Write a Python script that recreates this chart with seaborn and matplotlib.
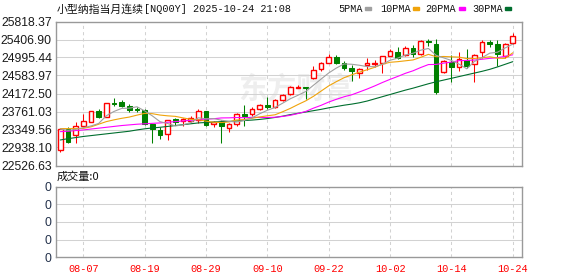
import numpy as np
import pandas as pd
import matplotlib
matplotlib.use("Agg")
import matplotlib.pyplot as plt
from matplotlib.patches import Rectangle
import seaborn as sns

# ---------------- data ----------------
dates = ["08-04", "08-05", "08-06", "08-07", "08-08", "08-11", "08-12", "08-13", "08-14", "08-15",
         "08-18", "08-19", "08-20", "08-21", "08-22", "08-25", "08-26", "08-27", "08-28", "08-29",
         "09-01", "09-02", "09-03", "09-04", "09-05", "09-08", "09-09", "09-10", "09-11", "09-12",
         "09-15", "09-16", "09-17", "09-18", "09-19", "09-22", "09-23", "09-24", "09-25", "09-26",
         "09-29", "09-30", "10-01", "10-02", "10-03", "10-06", "10-07", "10-08", "10-09", "10-10",
         "10-13", "10-14", "10-15", "10-16", "10-17", "10-20", "10-21", "10-22", "10-23", "10-24"]

opens = [22870, 23353, 23224, 23437, 23528, 23772, 23643, 23963, 23978, 23887,
         23826, 23785, 23470, 23334, 23243, 23595, 23535, 23543, 23566, 23776,
         23480, 23529, 23380, 23470, 23700, 23705, 23818, 23910, 23872, 24024,
         24150, 24300, 24313, 24527, 24725, 24870, 25014, 24862, 24763, 24634,
         24820, 24840, 24880, 25040, 25129, 25060, 25205, 25075, 25370, 25304,
         24656, 24900, 24786, 24938, 24847, 25113, 25342, 25304, 25037, 25319]
highs = [23353, 23406, 23528, 23696, 23765, 23818, 23948, 24077, 24024, 23925,
         23872, 23818, 23483, 23410, 23578, 23612, 23610, 23658, 23811, 23776,
         23545, 23567, 23506, 23719, 23910, 23856, 23940, 24100, 24047, 24170,
         24351, 24370, 24321, 24790, 24900, 25070, 25052, 24920, 24824, 24755,
         24976, 24940, 25040, 25180, 25225, 25260, 25290, 25405, 25415, 25418,
         24938, 25052, 25113, 25190, 25068, 25395, 25395, 25395, 25319, 25548]
lows = [22843, 23050, 23048, 23437, 23528, 23620, 23643, 23887, 23856, 23742,
        23742, 23452, 23052, 23135, 23105, 23452, 23430, 23530, 23490, 23437,
        23400, 23040, 23300, 23429, 23440, 23666, 23803, 23810, 23833, 24001,
        24138, 24300, 24045, 24510, 24690, 24862, 24840, 24700, 24450, 24530,
        24710, 24780, 24640, 25030, 24961, 25040, 25014, 25060, 25250, 24161,
        24633, 24443, 24694, 24748, 24427, 24991, 25243, 24809, 24976, 25300]
closes = [23353, 23071, 23429, 23536, 23765, 23635, 23948, 23925, 23887, 23788,
          23795, 23480, 23353, 23228, 23578, 23515, 23590, 23612, 23780, 23460,
          23530, 23429, 23470, 23696, 23665, 23825, 23910, 23872, 24020, 24145,
          24313, 24310, 24298, 24718, 24862, 25014, 24877, 24763, 24687, 24740,
          24862, 24870, 25030, 25150, 24995, 25215, 25075, 25380, 25345, 24214,
          24915, 24786, 24961, 24809, 25052, 25357, 25296, 25068, 25296, 25487]

ma5 = [23360, 23330, 23350, 23390, 23431, 23487, 23663, 23762, 23832, 23837,
       23869, 23775, 23661, 23529, 23487, 23431, 23455, 23507, 23617, 23593,
       23598, 23563, 23536, 23519, 23559, 23614, 23710, 23789, 23853, 23952,
       24053, 24133, 24218, 24360, 24502, 24642, 24755, 24848, 24841, 24818,
       24787, 24786, 24839, 24932, 24981, 25052, 25093, 25163, 25202, 25046,
       24986, 24928, 24844, 24737, 24905, 24993, 25095, 25116, 25214, 25301]
ma10 = [23370, 23370, 23370, 23375, 23410, 23470, 23530, 23570, 23605, 23634,
        23678, 23719, 23711, 23680, 23662, 23650, 23615, 23584, 23573, 23540,
        23514, 23509, 23521, 23568, 23576, 23606, 23637, 23663, 23686, 23756,
        23833, 23921, 24004, 24107, 24227, 24347, 24444, 24533, 24600, 24660,
        24715, 24771, 24844, 24886, 24900, 24920, 24940, 25001, 25067, 25014,
        25019, 25011, 25004, 24970, 24975, 24989, 25012, 24980, 24975, 25103]
ma20 = [23300, 23310, 23325, 23340, 23360, 23380, 23400, 23420, 23440, 23455,
        23470, 23480, 23490, 23500, 23515, 23530, 23545, 23560, 23575, 23587,
        23596, 23614, 23616, 23624, 23619, 23628, 23626, 23623, 23630, 23648,
        23674, 23715, 23763, 23837, 23902, 23977, 24040, 24098, 24143, 24208,
        24274, 24346, 24424, 24496, 24563, 24634, 24692, 24767, 24834, 24837,
        24867, 24891, 24924, 24928, 24937, 24955, 24976, 24991, 25021, 25058]
ma30 = [23110, 23140, 23165, 23190, 23210, 23230, 23250, 23270, 23290, 23310,
        23340, 23365, 23385, 23400, 23420, 23440, 23460, 23480, 23500, 23510,
        23520, 23530, 23535, 23545, 23555, 23565, 23580, 23600, 23625, 23655,
        23690, 23720, 23750, 23780, 23810, 23845, 23875, 23905, 23930, 23960,
        24000, 24050, 24100, 24150, 24200, 24250, 24295, 24345, 24395, 24440,
        24480, 24520, 24560, 24600, 24640, 24680, 24725, 24780, 24840, 24900]
volume = [0] * 60

price_ticks = [22526.63, 22938.10, 23349.56, 23761.03, 24172.50,
               24583.97, 24995.44, 25406.90, 25818.37]
price_tick_labels = ["22526.63", "22938.10", "23349.56", "23761.03", "24172.50",
                     "24583.97", "24995.44", "25406.90", "25818.37"]
date_tick_labels = ["08-07", "08-19", "08-29", "09-10", "09-22", "10-02", "10-14", "10-24"]
volume_tick_labels = ["0", "0", "0", "0", "0"]

title_cn = "小型纳指当月连续"
title_code = "[NQ00Y] 2025-10-24 21:08"
ma_names = ["5PMA", "10PMA", "20PMA", "30PMA"]
ma_colors = ["#a0a0a0", "#f0a30a", "#ff00ff", "#006e2e"]
volume_title = "成交量:0"

# ---------------- styling ----------------
sns.set_theme(style="white")
plt.rcParams["font.family"] = ["Liberation Sans", "Noto Sans CJK SC", "DejaVu Sans"]

W, H = 578, 276
fig = plt.figure(figsize=(W / 100, H / 100), dpi=100)
fig.patch.set_facecolor("white")

L, R = 56, 522
ax = fig.add_axes([L / W, 1 - 165.5 / H, (R - L) / W, 144 / H])
ax2 = fig.add_axes([L / W, 1 - 257.3 / H, (R - L) / W, 70.8 / H])

df = pd.DataFrame({"date": dates, "open": opens, "high": highs, "low": lows,
                   "close": closes, "ma5": ma5, "ma10": ma10, "ma20": ma20,
                   "ma30": ma30, "volume": volume})
df["i"] = np.arange(len(df))

RED = "#ff0000"
GREEN = "#008000"
GRID = "#d2d2d2"
FRAME = "#999999"
lw1 = 0.75

xlim = (-0.56, 60.2)
date_pos = [dates.index(d) for d in date_tick_labels]

for a in (ax, ax2):
    a.set_xlim(*xlim)
    a.set_facecolor("white")
    for s in a.spines.values():
        s.set_color(FRAME)
        s.set_linewidth(1.0)
    a.set_axisbelow(True)
    for p in date_pos:
        a.axvline(p, color=GRID, lw=lw1, ls=(0, (3, 3)), zorder=0.5)

# watermark
ax.text(238 / W, 1 - 89 / H, "东方财富", transform=fig.transFigure, fontsize=21,
        color="#eeeeee", family=["Noto Sans CJK SC"], weight="bold",
        va="center", ha="left", zorder=0.3, style="italic")

# main grid
ax.set_ylim(price_ticks[0], price_ticks[-1])
ax.set_yticks(price_ticks)
ax.set_yticklabels(price_tick_labels)
for t in price_ticks[1:-1]:
    ax.axhline(t, color=GRID, lw=lw1, zorder=0.5)
ax.tick_params(axis="y", length=0, pad=3, labelsize=8.8, labelcolor="#1a1a1a")
ax.set_xticks([])

# candles
up = df[df["close"] >= df["open"]]
dn = df[df["close"] < df["open"]]
bw = 0.62
ax.vlines(dn["i"], dn["low"], dn["high"], color=GREEN, lw=lw1, zorder=3)
ax.bar(dn["i"], dn["open"] - dn["close"], bottom=dn["close"], width=bw,
       color=GREEN, edgecolor=GREEN, linewidth=lw1, zorder=4)
ax.vlines(up["i"], up["close"], up["high"], color=RED, lw=lw1, zorder=3)
ax.vlines(up["i"], up["low"], up["open"], color=RED, lw=lw1, zorder=3)
ax.bar(up["i"], np.maximum(up["close"] - up["open"], 1), bottom=up["open"], width=bw,
       facecolor="white", edgecolor=RED, linewidth=1.0, zorder=4)

# moving averages
for col, c in zip(["ma30", "ma20", "ma10", "ma5"], ma_colors[::-1]):
    sns.lineplot(data=df, x="i", y=col, ax=ax, color=c, lw=0.8, legend=False, zorder=5)
ax.set_xlabel("")
ax.set_ylabel("")

# volume panel
ax2.bar(df["i"], df["volume"], width=bw, color=GREEN)
ax2.set_ylim(0, 4)
ax2.set_yticks([0, 1, 2, 3, 4])
ax2.set_yticklabels(volume_tick_labels)
for t in [1, 2, 3]:
    ax2.axhline(t, color=GRID, lw=lw1, zorder=0.5)
ax2.tick_params(axis="y", length=0, pad=3, labelsize=8.8, labelcolor="#22304a")
ax2.set_xticks(date_pos)
ax2.set_xticklabels(date_tick_labels)
ax2.tick_params(axis="x", length=0, pad=5, labelsize=7.4, labelcolor=RED)
for lab in ax2.get_xticklabels():
    lab.set_family("Liberation Mono")
ax2.set_xlabel("")
ax2.set_ylabel("")

# header texts
fig.text(57 / W, 1 - 9.5 / H, title_cn, family=["Noto Sans CJK SC"], fontsize=7.8,
         va="center", ha="left", color="#111111")
fig.text(144 / W, 1 - 9.5 / H, title_code, family=["Liberation Mono"], fontsize=7.3,
         va="center", ha="left", color="#111111")

leg_x = [338, 380, 425, 472]
mark_x = [365, 413, 459, 505]
for name, c, tx, mx in zip(ma_names, ma_colors, leg_x, mark_x):
    fig.text(tx / W, 1 - 9 / H, name, family=["Liberation Mono"], fontsize=7.3,
             va="center", ha="left", color="#111111")
    fig.patches.append(Rectangle((mx / W, 1 - 10.3 / H), 6 / W, 3 / H,
                                 transform=fig.transFigure, color=c))

fig.text(57 / W, 1 - 177 / H, volume_title, family=["Noto Sans CJK SC", "Liberation Sans"],
         fontsize=8, va="center", ha="left", color="#111111")

fig.savefig("out.png", dpi=100)
